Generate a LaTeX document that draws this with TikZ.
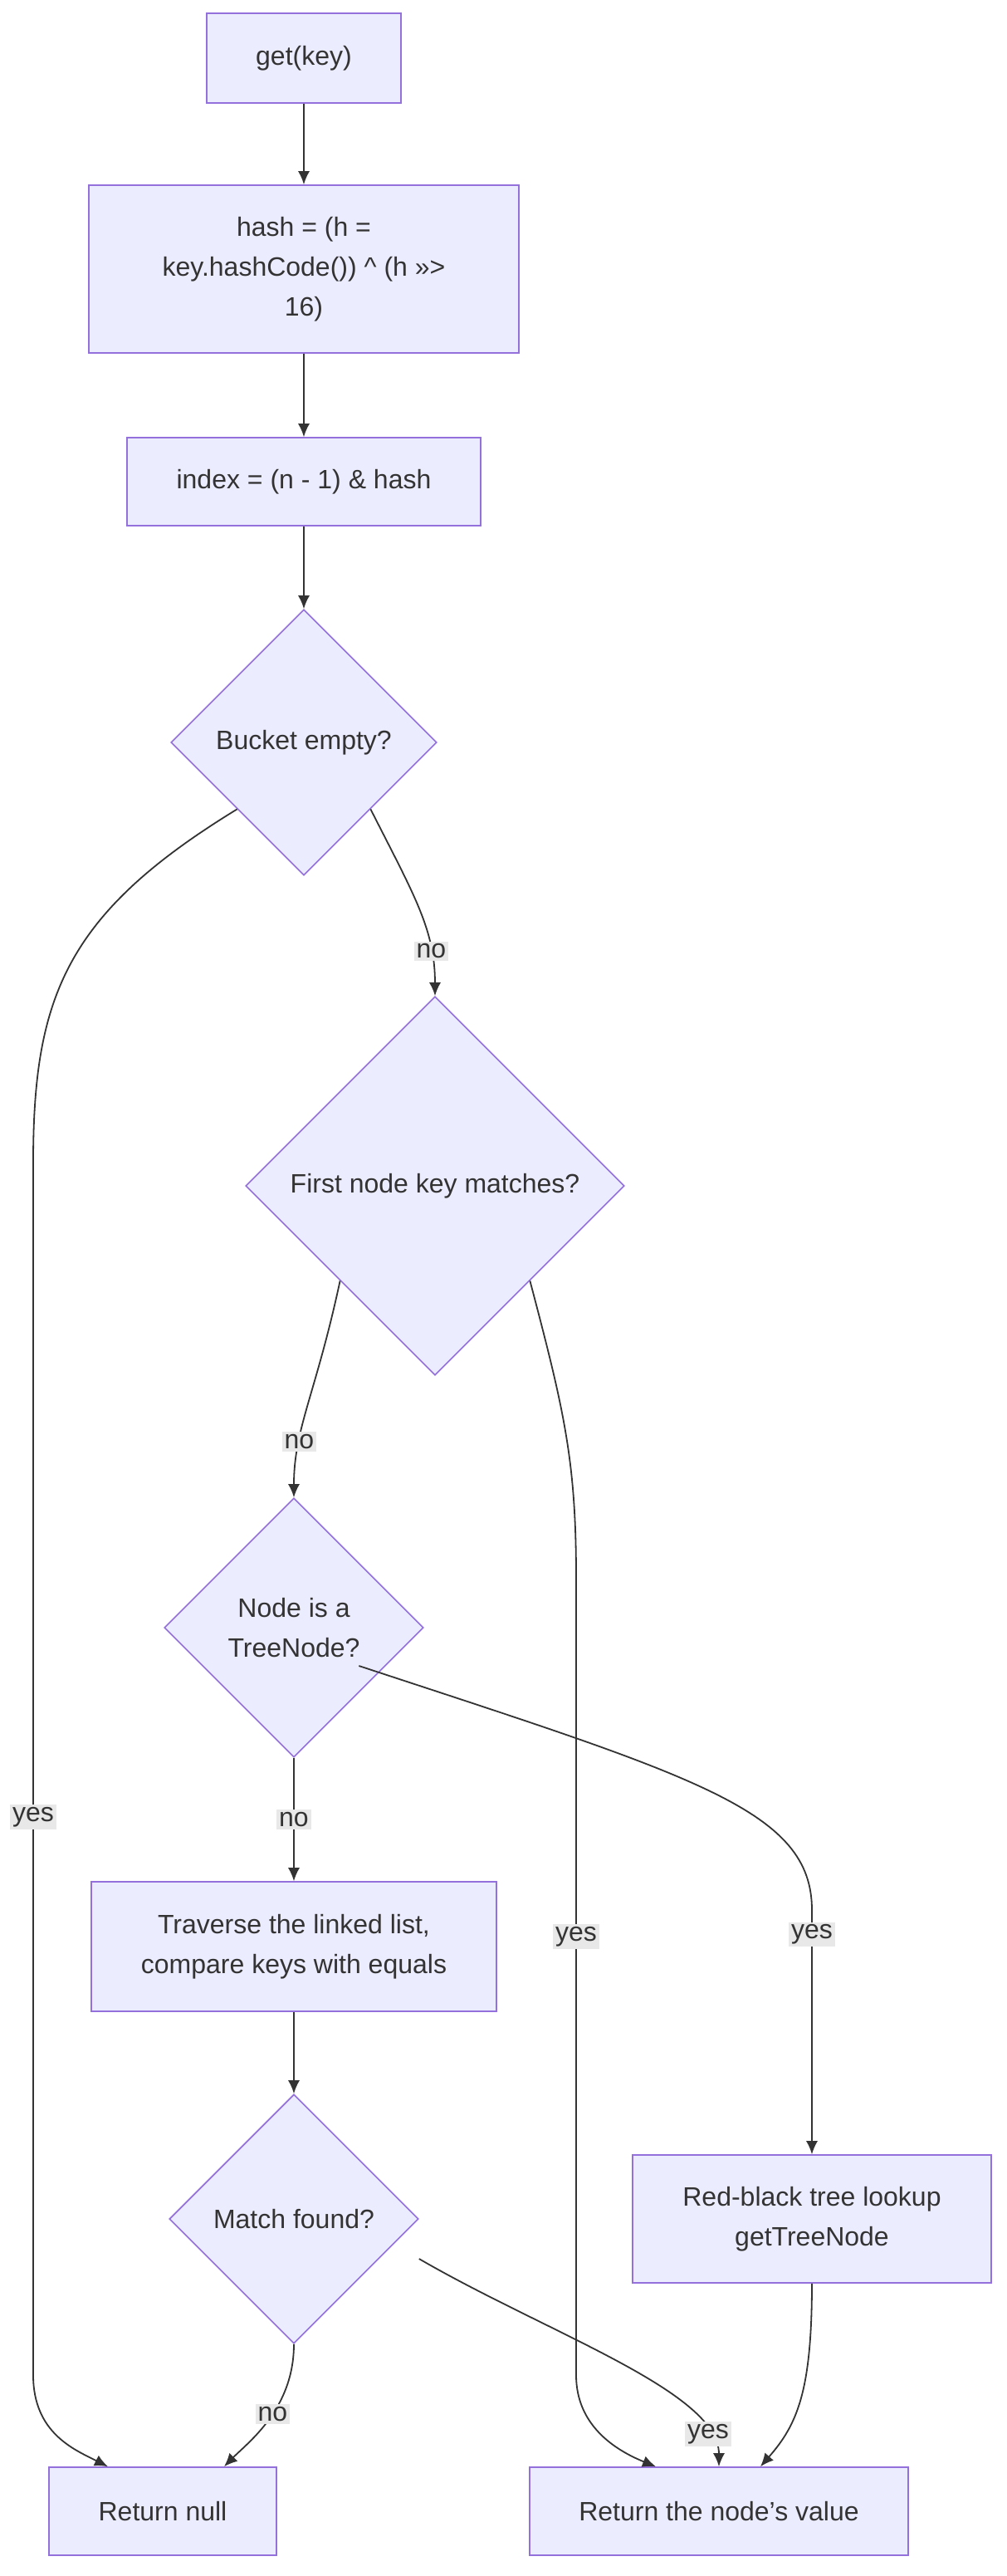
\documentclass[tikz,border=0pt]{standalone}
\usepackage{fontspec}
\setmainfont{Liberation Sans}
\usetikzlibrary{arrows.meta}
\usetikzlibrary{shapes.geometric}
\definecolor{boxfill}{HTML}{ECECFF}
\definecolor{boxline}{HTML}{9370DB}
\definecolor{edge}{HTML}{333333}
\definecolor{lblfill}{HTML}{E8E8E8}

\begin{document}
\begin{tikzpicture}[x=1pt,y=-1pt,
  font=\fontsize{16}{24}\selectfont, text=edge,
  block/.style={rectangle,draw=boxline,fill=boxfill,line width=0.8pt,align=center},
  decide/.style={diamond,draw=boxline,fill=boxfill,line width=0.8pt,align=center,inner sep=0pt},
  arr/.style={draw=edge,line width=0.9pt,-{Latex[length=8pt,width=7pt]}},
  lbl/.style={fill=lblfill,inner sep=1.5pt,text=edge}]
\useasboundingbox (0,0) rectangle (606,1551);
\node at (183,  35) (get)    [block,minimum width=117pt,minimum height=54pt] {get(key)};
\node at (183, 162) (hash)   [block,minimum width=259pt,minimum height=101pt] {hash = (h =\\key.hashCode()) \^{} (h >>>\\16)};
\node at (183, 290) (index)  [block,minimum width=213pt,minimum height=53pt] {index = (n - 1) \& hash};
\node at (183, 447) (bucket) [decide,minimum width=160pt,minimum height=160pt] {Bucket empty?};
\node at (262, 714) (first)  [decide,minimum width=228pt,minimum height=228pt] {First node key matches?};
\node at (177, 980) (tree)   [decide,minimum width=156pt,minimum height=156pt] {Node is a\\TreeNode?};
\node at (177,1172) (walk)   [block,minimum width=244pt,minimum height=78pt] {Traverse the linked list,\\compare keys with equals};
\node at (177,1336) (match)  [decide,minimum width=150pt,minimum height=150pt] {Match found?};
\node at (489,1336) (rbtree) [block,minimum width=216pt,minimum height=77pt] {Red-black tree lookup\\getTreeNode};
\node at ( 98,1512) (rnull)  [block,minimum width=137pt,minimum height=53pt] {Return null};
\node at (433,1512) (rvalue) [block,minimum width=228pt,minimum height=53pt] {Return the node's value};
\draw [arr] (get) -- (hash);
\draw [arr] (hash) -- (index);
\draw [arr] (index) -- (bucket);
\draw [arr] (bucket.south east) .. controls (250,540) and (262,560) .. node[lbl,pos=0.75]{no} (first.north);
\draw [arr] (bucket.south west) .. controls (40,550) and (20,600) .. (20,700)
  -- node[lbl,pos=0.54]{yes} (20,1430) .. controls (20,1465) and (45,1475) .. ([xshift=-33pt]rnull.north);
\draw [arr] (first.south west) .. controls (190,840) and (177,860) .. node[lbl,pos=0.7]{no} (tree.north);
\draw [arr] (first.south east) .. controls (340,850) and (347,880) .. (347,950)
  -- node[lbl,pos=0.45]{yes} (347,1430) .. controls (347,1460) and (370,1475) .. ([xshift=-38pt]rvalue.north);
\draw [arr] (tree) -- node[lbl]{no} (walk);
\draw [arr] (tree.north east |- 0,1003) .. controls (420,1070) and (489,1090) .. (489,1150)
  -- node[lbl,pos=0.1]{yes} (rbtree.north);
\draw [arr] (walk) -- (match);
\draw [arr] (match.south) .. controls (177,1450) and (150,1470) .. node[lbl,pos=0.45]{no} ([xshift=37pt]rnull.north);
\draw [arr] (match.east |- 0,1360) .. controls (330,1405) and (433,1440) .. node[lbl,pos=0.85]{yes} (rvalue.north);
\draw [arr] (rbtree.south) .. controls (489,1440) and (480,1460) .. ([xshift=25pt]rvalue.north);
\end{tikzpicture}
\end{document}
